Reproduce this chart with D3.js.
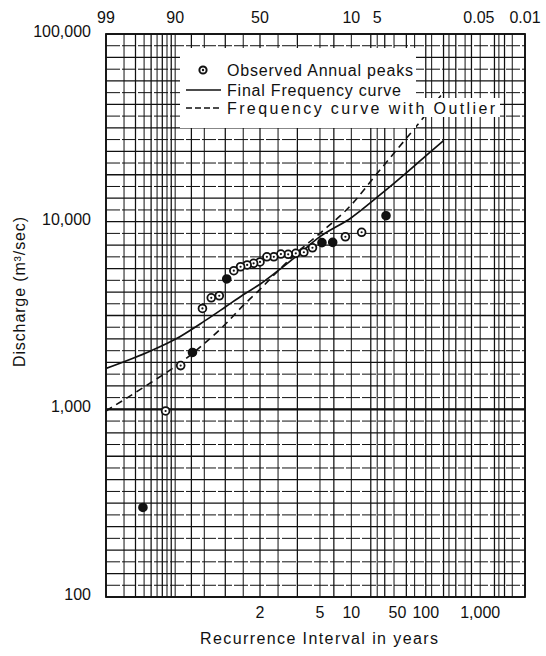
<!DOCTYPE html>
<html><head><meta charset="utf-8">
<script src="https://cdn.jsdelivr.net/npm/d3@7"></script>
<style>
html,body{margin:0;padding:0;background:#fff;}
svg{display:block;font-family:"Liberation Sans",Arial,sans-serif;}
</style></head><body>
<svg id="chart" width="546" height="656"></svg>
<script>
// ---- data ----
// exceedance probability (%) of each observed annual peak
const peakExceedance = [3.85, 7.69, 11.54, 15.38, 19.23, 23.08, 26.92, 30.77, 34.62, 38.46, 42.31, 46.15, 50, 53.85, 57.69, 61.54, 65.38, 69.23, 73.08, 76.92, 80.77, 84.62, 88.46, 92.31, 96.15];
// discharge (m3/sec) of each observed annual peak
const peakDischarge = [10760, 8780, 8310, 7760, 7730, 7260, 6870, 6780, 6700, 6720, 6500, 6500, 6100, 6000, 5880, 5750, 5480, 4950, 4030, 3930, 3450, 2010, 1710, 980, 300];
// frequency curves
const curveExceedance = [99, 95, 90, 80, 70, 60, 50, 40, 30, 20, 10, 5, 2, 1, 0.5];
const finalCurve = [1650, 2050, 2360, 2950, 3510, 4080, 4640, 5480, 6620, 8320, 10500, 13500, 18200, 22400, 27000];
const outlierCurve = [980, 1390, 1690, 2240, 2840, 3580, 4360, 5470, 6870, 8670, 12300, 18100, 27800, 37100, 49000];
// axes
const topTickValues = [99, 90, 50, 10, 5, 0.05, 0.01];
const topTickLabels = ["99", "90", "50", "10", "5", "0.05", "0.01"];
const returnPeriods = [2, 5, 10, 50, 100, 1000];
const returnLabels = ["2", "5", "10", "50", "100", "1,000"];
const yTickValues = [100, 1000, 10000, 100000];
const yTickLabels = ["100", "1,000", "10,000", "100,000"];
const gridProbs = [99, 98, 97, 96, 95, 94, 93, 92, 91, 90, 85, 80, 70, 60, 50, 40, 30, 20, 15, 10, 6, 5, 4, 3, 2, 1.5, 1, 0.8, 0.5, 0.4, 0.3, 0.2, 0.15, 0.1, 0.05, 0.04, 0.03, 0.02, 0.01];
const legendLabels = ["Observed Annual peaks", "Final Frequency curve", "Frequency curve with Outlier"];

// ---- helpers ----
function normInv(p){
  const a=[-3.969683028665376e+01,2.209460984245205e+02,-2.759285104469687e+02,1.383577518672690e+02,-3.066479806614716e+01,2.506628277459239e+00];
  const b=[-5.447609879822406e+01,1.615858368580409e+02,-1.556989798598866e+02,6.680131188771972e+01,-1.328068155288572e+01];
  const c=[-7.784894002430293e-03,-3.223964580411365e-01,-2.400758277161838e+00,-2.549732539343734e+00,4.374664141464968e+00,2.938163982698783e+00];
  const d=[7.784695709041462e-03,3.224671290700398e-01,2.445134137142996e+00,3.754408661907416e+00];
  const pl=0.02425, ph=1-pl; let q, r;
  if(p<pl){q=Math.sqrt(-2*Math.log(p));return (((((c[0]*q+c[1])*q+c[2])*q+c[3])*q+c[4])*q+c[5])/((((d[0]*q+d[1])*q+d[2])*q+d[3])*q+1);}
  if(p<=ph){q=p-0.5;r=q*q;return (((((a[0]*r+a[1])*r+a[2])*r+a[3])*r+a[4])*r+a[5])*q/(((((b[0]*r+b[1])*r+b[2])*r+b[3])*r+b[4])*r+1);}
  q=Math.sqrt(-2*Math.log(1-p));return -(((((c[0]*q+c[1])*q+c[2])*q+c[3])*q+c[4])*q+c[5])/((((d[0]*q+d[1])*q+d[2])*q+d[3])*q+1);
}
const zOf = pct => normInv(1 - pct/100);

// ---- layout ----
const L = 106, R = 525, T = 34, B = 597;
const svg = d3.select("#chart");
const xz = d3.scaleLinear().domain([zOf(99), 0, zOf(0.01)]).range([L, 260, R]);
const x = pct => xz(zOf(pct));
const y = d3.scaleLog().domain([100, 100000]).range([B, T]);
const ink = "#111";

svg.append("defs").append("clipPath").attr("id","plot")
  .append("rect").attr("x",L).attr("y",T).attr("width",R-L).attr("height",B-T);

const grid = svg.append("g").attr("stroke", ink).attr("fill","none");
// horizontal grid (log ruled, 16 lines per decade)
const hVals = d3.range(0, 49).map(k => Math.pow(10, 2 + k/16));
grid.selectAll("line.h").data(hVals).join("line").attr("class","h")
  .attr("x1", L).attr("x2", R)
  .attr("y1", d => y(d)).attr("y2", d => y(d))
  .attr("stroke-width", (d,i) => i % 2 === 0 ? 1.3 : 1.0)
  .attr("stroke-dasharray", (d,i) => i % 2 === 0 ? null : "14,2");
// vertical grid (probability ruled)
grid.selectAll("line.v").data(gridProbs).join("line").attr("class","v")
  .attr("x1", d => x(d)).attr("x2", d => x(d))
  .attr("y1", T).attr("y2", B)
  .attr("stroke-width", (d,i) => i % 2 === 0 ? 1.25 : 1.0);
// heavy 1,000 line
grid.append("line").attr("x1", L).attr("x2", R).attr("y1", y(1000)).attr("y2", y(1000)).attr("stroke-width", 2.2);
// frame
svg.append("rect").attr("x", L).attr("y", T).attr("width", R-L).attr("height", B-T)
  .attr("fill","none").attr("stroke", ink).attr("stroke-width", 1.8);

// curves
const line = d3.line().x(d => x(d[0])).y(d => y(d[1])).curve(d3.curveMonotoneX);
const curves = svg.append("g").attr("clip-path","url(#plot)");
curves.append("path").datum(curveExceedance.map((p,i)=>[p, outlierCurve[i]]))
  .attr("d", line).attr("fill","none").attr("stroke", ink).attr("stroke-width", 1.6)
  .attr("stroke-dasharray","7,5");
curves.append("path").datum(curveExceedance.map((p,i)=>[p, finalCurve[i]]))
  .attr("d", line).attr("fill","none").attr("stroke", ink).attr("stroke-width", 1.7);

// observed peaks
const SOLID = new Set([0, 3, 4, 17, 21, 24]);
const pts = svg.append("g");
const pd = peakExceedance.map((p,i)=>({p, q: peakDischarge[i], i}));
pts.selectAll("circle.o").data(pd).join("circle").attr("class","o")
  .attr("cx", d => x(d.p)).attr("cy", d => y(d.q)).attr("r", 3.9)
  .attr("fill", d => SOLID.has(d.i) ? ink : "#fff")
  .attr("stroke", ink).attr("stroke-width", 1.8);
pts.selectAll("circle.c").data(pd.filter(d => !SOLID.has(d.i))).join("circle").attr("class","c")
  .attr("cx", d => x(d.p)).attr("cy", d => y(d.q)).attr("r", 1.1).attr("fill", ink);

// legend
const lg = svg.append("g");
lg.append("rect").attr("x",180).attr("y",48).attr("width",236).attr("height",80).attr("fill","#fff");
lg.append("rect").attr("x",414).attr("y",98).attr("width",86).attr("height",19).attr("fill","#fff");
lg.append("circle").attr("cx",203).attr("cy",70).attr("r",3.6).attr("fill","#fff").attr("stroke",ink).attr("stroke-width",2);
lg.append("circle").attr("cx",203).attr("cy",70).attr("r",1.2).attr("fill",ink);
lg.append("line").attr("x1",186).attr("x2",221).attr("y1",90).attr("y2",90).attr("stroke",ink).attr("stroke-width",1.6);
lg.append("line").attr("x1",186).attr("x2",221).attr("y1",108).attr("y2",108).attr("stroke",ink).attr("stroke-width",1.5).attr("stroke-dasharray","6,3");
const legendY = [76, 96, 114], legendW = [186, 174, 268];
lg.selectAll("text").data(legendLabels).join("text")
  .attr("x", 227).attr("y", (d,i) => legendY[i])
  .attr("textLength", (d,i) => legendW[i]).attr("lengthAdjust","spacing")
  .attr("font-size", 16).attr("fill", ink).text(d => d);

// axis labels
const txt = svg.append("g").attr("fill", ink).attr("font-size", 16);
const topAnchor = ["middle","middle","middle","middle","middle","end","middle"];
txt.selectAll("text.top").data(topTickValues).join("text").attr("class","top")
  .attr("x", d => x(d)).attr("y", 23).attr("text-anchor",(d,i) => topAnchor[i])
  .text((d,i) => topTickLabels[i]);
const botAnchor = ["middle","middle","middle","end","middle","middle"];
txt.selectAll("text.bot").data(returnPeriods).join("text").attr("class","bot")
  .attr("x", d => x(100/d)).attr("y", 618).attr("text-anchor",(d,i) => botAnchor[i])
  .text((d,i) => returnLabels[i]);
txt.selectAll("text.yl").data(yTickValues).join("text").attr("class","yl")
  .attr("x", 91).attr("y", d => y(d) + 3).attr("text-anchor","end")
  .text((d,i) => yTickLabels[i]);
txt.append("text").attr("x", 319).attr("y", 644).attr("text-anchor","middle")
  .attr("textLength", 238).attr("lengthAdjust","spacing").text("Recurrence Interval in years");
txt.append("text").attr("transform","translate(25,292) rotate(-90)").attr("text-anchor","middle")
  .attr("textLength", 150).attr("lengthAdjust","spacing").text("Discharge (m³/sec)");
</script>
</body></html>
